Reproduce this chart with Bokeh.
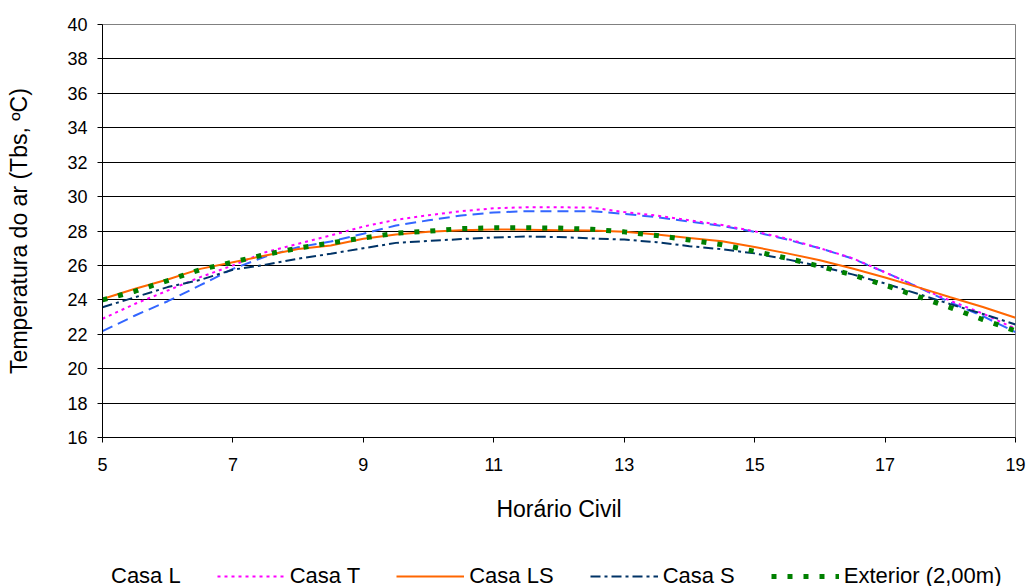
from bokeh.plotting import figure
from bokeh.models import Legend, LegendItem, FixedTicker, Range1d
from bokeh.layouts import column
from bokeh.embed import file_html
from bokeh.resources import INLINE

hours = [5.0, 5.5, 6.0, 6.5, 7.0, 7.5, 8.0, 8.5, 9.0, 9.5, 10.0, 10.5, 11.0, 11.5,
         12.0, 12.5, 13.0, 13.5, 14.0, 14.5, 15.0, 15.5, 16.0, 16.5, 17.0, 17.5,
         18.0, 18.5, 19.0]

casa_l = [22.18, 23.09, 23.92, 24.85, 25.80, 26.52, 27.06, 27.39, 27.84, 28.32,
          28.62, 28.90, 29.08, 29.15, 29.15, 29.15, 29.00, 28.80, 28.55, 28.30,
          27.95, 27.50, 27.00, 26.40, 25.60, 24.75, 23.85, 23.05, 22.12]
casa_t = [22.90, 23.77, 24.54, 25.32, 26.00, 26.77, 27.26, 27.74, 28.26, 28.65,
          28.92, 29.15, 29.32, 29.38, 29.38, 29.36, 29.10, 28.90, 28.62, 28.35,
          27.98, 27.55, 27.00, 26.42, 25.60, 24.75, 23.95, 23.20, 22.32]
casa_ls = [24.05, 24.64, 25.18, 25.80, 26.19, 26.58, 26.96, 27.16, 27.55, 27.80,
           27.95, 28.05, 28.09, 28.07, 28.05, 28.03, 27.95, 27.80, 27.60, 27.41,
           27.07, 26.70, 26.30, 25.82, 25.30, 24.74, 24.15, 23.58, 22.96]
casa_s = [23.57, 24.15, 24.74, 25.16, 25.75, 26.04, 26.39, 26.68, 27.00, 27.31,
          27.42, 27.53, 27.62, 27.68, 27.65, 27.57, 27.50, 27.35, 27.12, 26.94,
          26.70, 26.35, 25.95, 25.48, 24.95, 24.35, 23.75, 23.18, 22.57]
exterior = [24.00, 24.50, 25.12, 25.76, 26.19, 26.64, 27.00, 27.31, 27.60, 27.87,
            27.99, 28.14, 28.19, 28.19, 28.17, 28.10, 27.95, 27.74, 27.48, 27.20,
            26.82, 26.42, 25.95, 25.45, 24.85, 24.20, 23.55, 22.85, 22.20]

series_names = ["Casa L", "Casa T", "Casa LS", "Casa S", "Exterior (2,00m)"]
x_ticks = [5, 7, 9, 11, 13, 15, 17, 19]
y_ticks = list(range(16, 41, 2))

FONT = "Liberation Sans"

styles = [
    dict(line_color="#3366FF", line_width=2, line_dash="11 6"),
    dict(line_color="#FF00FF", line_width=2, line_dash="3 4"),
    dict(line_color="#FF6600", line_width=2),
    dict(line_color="#003366", line_width=2, line_dash="10 4 3 4"),
    dict(line_color="#008000", line_width=5, line_dash="5 11"),
]

p = figure(width=1028, height=532, output_backend="svg", toolbar_location=None,
           x_range=Range1d(5, 19), y_range=Range1d(16, 40),
           min_border_left=102, min_border_top=24, min_border_right=13,
           min_border_bottom=95)
p.background_fill_color = "white"
p.border_fill_color = "white"
p.outline_line_color = "#808080"
p.outline_line_width = 1

p.xgrid.visible = False
p.ygrid.ticker = FixedTicker(ticks=y_ticks)
p.ygrid.grid_line_color = "#000000"
p.ygrid.grid_line_width = 1

p.xaxis.ticker = FixedTicker(ticks=x_ticks)
p.yaxis.ticker = FixedTicker(ticks=y_ticks)
for ax in (p.xaxis[0], p.yaxis[0]):
    ax.axis_line_color = "#000000"
    ax.major_tick_line_color = "#000000"
    ax.major_tick_out = 5
    ax.major_tick_in = 0
    ax.minor_tick_line_color = None
    ax.major_label_text_font = FONT
    ax.major_label_text_font_size = "18px"
    ax.major_label_text_color = "#000000"
    ax.axis_label_text_font = FONT
    ax.axis_label_text_font_size = "23px"
    ax.axis_label_text_font_style = "normal"
    ax.axis_label_text_color = "#000000"

p.xaxis.axis_label = "Horário Civil"
p.xaxis.major_label_standoff = 15
p.xaxis.axis_label_standoff = 22
p.yaxis.axis_label = "Temperatura do ar (Tbs, ºC)"
p.yaxis.major_label_standoff = 10
p.yaxis.axis_label_standoff = 32

data = [casa_l, casa_t, casa_ls, casa_s, exterior]
for ys, st in zip(data, styles):
    p.line(hours, ys, **st)

# legend strip below the chart
lg = figure(width=1028, height=54, output_backend="svg", toolbar_location=None,
            x_range=Range1d(0, 1), y_range=Range1d(0, 1),
            min_border_left=0, min_border_right=0, min_border_top=0, min_border_bottom=0)
lg.axis.visible = False
lg.grid.visible = False
lg.outline_line_color = None
lg.background_fill_color = "white"
lg.border_fill_color = "white"

items = []
for name, st in zip(series_names, styles):
    # sample renderers kept outside the visible range; only their legend glyph shows
    r = lg.line([5, 6], [5, 6], **st)
    items.append(LegendItem(label=name, renderers=[r]))

legend = Legend(items=items, orientation="horizontal", location=(-64, -3))
legend.label_text_font = FONT
legend.label_text_font_size = "22px"
legend.label_text_color = "#000000"
legend.glyph_width = 68
legend.label_standoff = 5
legend.spacing = 36
legend.border_line_color = None
legend.background_fill_alpha = 0
legend.margin = 0
legend.padding = 0
legend.label_height = 20
legend.glyph_height = 20
lg.add_layout(legend)

layout = column(p, lg, spacing=0)
open("out.html", "w").write(file_html(layout, INLINE))
